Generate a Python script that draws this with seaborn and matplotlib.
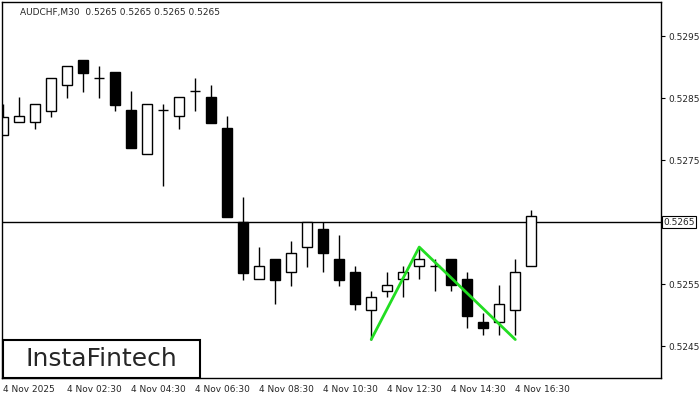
import numpy as np
import pandas as pd
import matplotlib
matplotlib.use("Agg")
import matplotlib.pyplot as plt
from matplotlib.patches import Rectangle
import seaborn as sns

sns.set_style("white")
plt.rcParams['font.family'] = ['DejaVu Sans']

# M30 candles, AUDCHF
opens = [.52791, .52812, .52812, .52829, .52871, .52911, .52882, .52892, .52831, .52760,
         .52831, .52821, .52861, .52852, .52802, .52651, .52559, .52590, .52570, .52610,
         .52639, .52590, .52570, .52509, .52540, .52559, .52580, .52580, .52590, .52559,
         .52490, .52490, .52509, .52580]
highs = [.52841, .52852, .52841, .52882, .52902, .52911, .52902, .52892, .52861, .52841,
         .52841, .52852, .52882, .52871, .52821, .52691, .52610, .52590, .52620, .52651,
         .52651, .52630, .52580, .52540, .52570, .52580, .52610, .52590, .52590, .52570,
         .52504, .52549, .52590, .52670]
lows = [.52791, .52812, .52800, .52820, .52850, .52860, .52850, .52829, .52770, .52760,
        .52709, .52800, .52829, .52810, .52659, .52557, .52559, .52519, .52548, .52578,
        .52570, .52548, .52509, .52461, .52530, .52530, .52559, .52540, .52540, .52480,
        .52469, .52469, .52469, .52580]
closes = [.52820, .52821, .52841, .52882, .52902, .52890, .52882, .52839, .52770, .52841,
          .52831, .52852, .52861, .52810, .52659, .52569, .52580, .52557, .52601, .52651,
          .52601, .52557, .52519, .52530, .52549, .52570, .52590, .52580, .52549, .52499,
          .52480, .52519, .52570, .52660]

pattern_idx = [23, 26, 32]
pattern_px = [.52461, .52610, .52461]
current = 0.5265

tick_idx = [0, 4, 8, 12, 16, 20, 24, 28, 32]
tick_labels = ["4 Nov 2025", "4 Nov 02:30", "4 Nov 04:30", "4 Nov 06:30", "4 Nov 08:30",
               "4 Nov 10:30", "4 Nov 12:30", "4 Nov 14:30", "4 Nov 16:30"]
y_ticks = [0.5245, 0.5255, 0.5275, 0.5285, 0.5295]

df = pd.DataFrame({"o": opens, "h": highs, "l": lows, "c": closes})
df["i"] = np.arange(len(df))

fig = plt.figure(figsize=(7, 4), dpi=100)
ax = fig.add_axes([2/700, 22/400, 659/700, 376/400])

ax.vlines(df["i"], df["l"], df["h"], color="black", lw=1, zorder=1)
bottom = np.minimum(df["o"], df["c"])
height = np.maximum(np.abs(df["c"] - df["o"]), 0.000002)
fc = ["white" if c >= o else "black" for o, c in zip(df["o"], df["c"])]
ax.bar(df["i"], height, bottom=bottom, width=0.62, color=fc, edgecolor="black", lw=1, zorder=2)

ax.axhline(current, color="black", lw=1, zorder=0)
sns.lineplot(x=pattern_idx, y=pattern_px, ax=ax, color="#22dd22", lw=2, zorder=3)

ax.set_xlim(-0.06, 41.1)
ax.set_ylim(0.52399, 0.53005)
ax.yaxis.tick_right()
ax.set_yticks(y_ticks)
ax.set_yticklabels([f"{v:.4f}" for v in y_ticks], fontsize=6.5)
ax.set_xticks(tick_idx)
ax.set_xticklabels(tick_labels, fontsize=6.5, ha="left")
ax.tick_params(axis="both", length=3, color="black", pad=2)
for s in ax.spines.values():
    s.set_color("black")
    s.set_linewidth(1)

ax.text(1.004, current, f"{current:.4f}", transform=ax.get_yaxis_transform(), fontsize=6.5,
        va="center", ha="left", bbox=dict(boxstyle="square,pad=0.15", fc="white", ec="black", lw=0.8))
ax.text(0.027, 0.985, "AUDCHF,M30  0.5265 0.5265 0.5265 0.5265", transform=ax.transAxes,
        fontsize=6.5, va="top", ha="left")

fig.patches.append(Rectangle((3/700, 22/400), 197/700, 38/400, transform=fig.transFigure,
                             fc="white", ec="black", lw=1.5, zorder=5))
fig.text(101/700, 41/400, "InstaFintech", fontsize=18, va="center", ha="center", zorder=6)

fig.savefig("out.png", dpi=100)
